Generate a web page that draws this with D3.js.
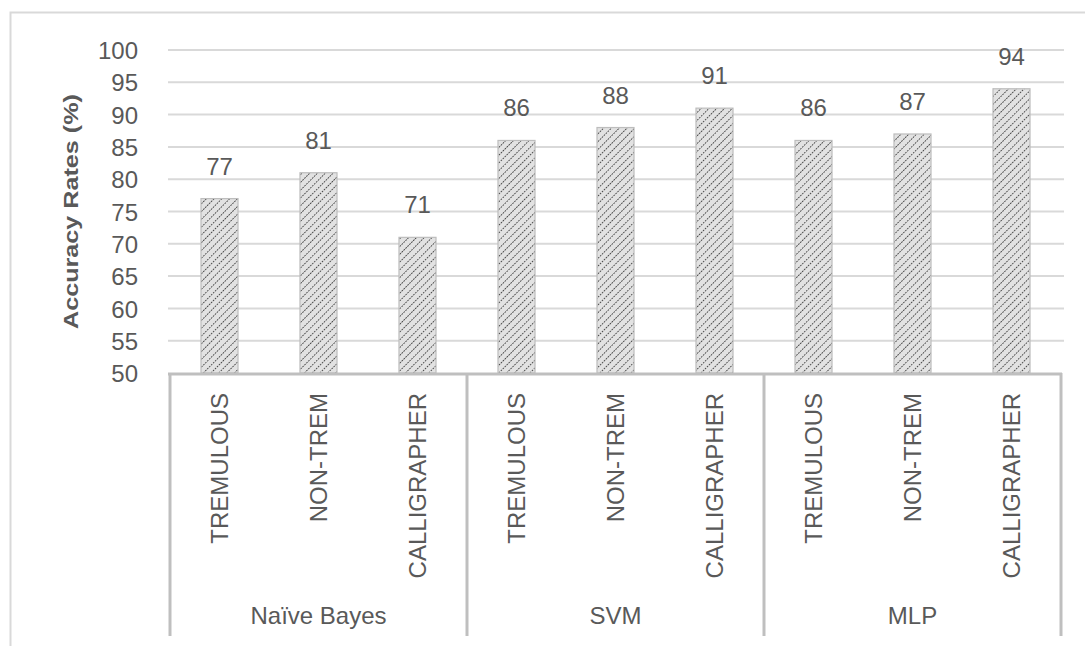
<!DOCTYPE html>
<html>
<head>
<meta charset="utf-8">
<script src="https://cdn.jsdelivr.net/npm/d3@7"></script>
<style>
  html, body { margin: 0; padding: 0; background: #fff; }
  svg { display: block; }
  text { font-family: "Liberation Sans", Arial, sans-serif; fill: #595959; }
</style>
</head>
<body>
<svg id="chart" width="1085" height="646"></svg>
<script>
const groups = ["Naïve Bayes", "SVM", "MLP"];
const categories = ["TREMULOUS", "NON-TREM", "CALLIGRAPHER"];
const values = [
  [77, 81, 71],
  [86, 88, 91],
  [86, 87, 94]
];
const yTicks = [50, 55, 60, 65, 70, 75, 80, 85, 90, 95, 100];
const yTitle = "Accuracy Rates (%)";

const svg = d3.select("#chart");
const W = 1085, H = 646;

// outer chart border (continues past right/bottom edges)
svg.append("rect")
  .attr("x", 10.5).attr("y", 12.5)
  .attr("width", W + 20).attr("height", H + 20)
  .attr("fill", "#fff").attr("stroke", "#d9d9d9").attr("stroke-width", 2);

// hatch pattern
const defs = svg.append("defs");
const pat = defs.append("pattern")
  .attr("id", "hatch")
  .attr("patternUnits", "userSpaceOnUse")
  .attr("width", 5.5).attr("height", 5.5)
  .attr("patternTransform", "rotate(45)");
pat.append("rect").attr("width", 5.5).attr("height", 5.5).attr("fill", "#e2e2e2");
pat.append("line")
  .attr("x1", 0).attr("y1", 0).attr("x2", 0).attr("y2", 5.5)
  .attr("stroke", "#4a4a4a").attr("stroke-width", 1.8)
  .attr("stroke-dasharray", "1.8,0.9");

const plotLeft = 170, plotRight = 1061, plotTop = 50, plotBottom = 373, axisBottom = 636;

const flat = [];
groups.forEach((g, gi) => categories.forEach((c, ci) => flat.push({ g, gi, c, ci, key: g + "|" + c, v: values[gi][ci] })));

const x = d3.scaleBand().domain(flat.map(d => d.key)).range([plotLeft, plotRight]).paddingInner(0.626).paddingOuter(0.313);
const xg = d3.scaleBand().domain(groups).range([plotLeft, plotRight]);
const y = d3.scaleLinear().domain([50, 100]).range([plotBottom, plotTop]);

// gridlines
svg.append("g").selectAll("line").data(yTicks.filter(t => t > 50)).join("line")
  .attr("x1", plotLeft - 2).attr("x2", plotRight + 3)
  .attr("y1", d => y(d)).attr("y2", d => y(d))
  .attr("stroke", "#d9d9d9").attr("stroke-width", 2);

// y axis tick labels
const yAxis = d3.axisLeft(y).tickValues(yTicks).tickSize(0).tickPadding(0);
const yg = svg.append("g").attr("transform", `translate(138,0)`).call(yAxis);
yg.select(".domain").remove();
yg.selectAll("text").attr("font-size", 24).attr("fill", "#595959")
  .attr("font-family", "Liberation Sans, Arial, sans-serif").attr("dy", "0.36em");

// y title
svg.append("text")
  .attr("transform", `translate(78,${(plotTop + plotBottom) / 2}) rotate(-90)`)
  .attr("text-anchor", "middle")
  .attr("font-size", 21).attr("font-weight", "bold")
  .attr("textLength", 235).attr("lengthAdjust", "spacingAndGlyphs")
  .attr("fill", "#404040")
  .text(yTitle);

// bars
svg.append("g").selectAll("rect").data(flat).join("rect")
  .attr("x", d => x(d.key)).attr("width", x.bandwidth())
  .attr("y", d => y(d.v)).attr("height", d => y(50) - y(d.v))
  .attr("fill", "url(#hatch)").attr("stroke", "#bdbdbd").attr("stroke-width", 1.2);

// value labels
svg.append("g").selectAll("text").data(flat).join("text")
  .attr("x", d => x(d.key) + x.bandwidth() / 2)
  .attr("y", d => y(d.v) - 24)
  .attr("text-anchor", "middle")
  .attr("font-size", 24)
  .attr("fill", "#404040")
  .text(d => d.v);

// category axis box
const ax = svg.append("g").attr("stroke", "#bfbfbf").attr("stroke-width", 3);
ax.append("line").attr("x1", plotLeft - 2).attr("x2", plotRight + 1).attr("y1", plotBottom + 1).attr("y2", plotBottom + 1);
const bounds = groups.map(g => xg(g)).concat([plotRight]);
ax.selectAll("line.div").data(bounds).join("line").attr("class", "div")
  .attr("x1", d => d).attr("x2", d => d)
  .attr("y1", plotBottom).attr("y2", axisBottom);

// category labels rotated
svg.append("g").selectAll("text").data(flat).join("text")
  .attr("transform", d => `translate(${x(d.key) + x.bandwidth() / 2},393) rotate(-90)`)
  .attr("text-anchor", "end")
  .attr("dy", "0.36em")
  .attr("font-size", 24)
  .text(d => d.c);

// group labels
svg.append("g").selectAll("text").data(groups).join("text")
  .attr("x", d => xg(d) + xg.bandwidth() / 2)
  .attr("y", 624)
  .attr("text-anchor", "middle")
  .attr("font-size", 24)
  .text(d => d);
</script>
</body>
</html>
